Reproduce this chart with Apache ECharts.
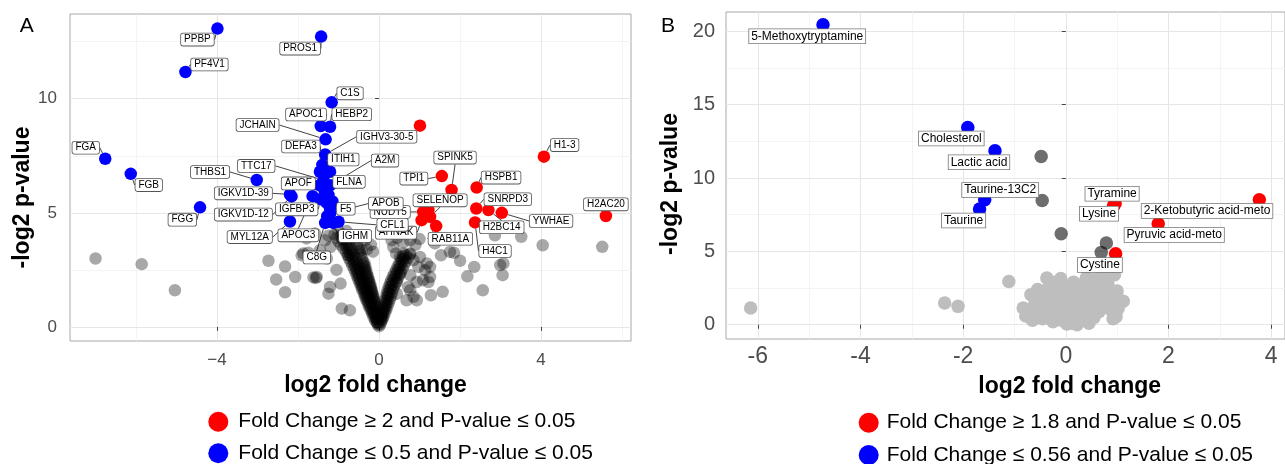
<!DOCTYPE html>
<html><head><meta charset="utf-8">
<script src="https://cdn.jsdelivr.net/npm/echarts@6/dist/echarts.min.js"></script>
<style>html,body{margin:0;padding:0;background:#fff;}#c{width:1285px;height:464px;}</style>
</head><body><div id="c"></div>
<script>
// ================= DATA: Panel A (proteins) =================
const aUpNames = ['', 'H1-3', 'TPI1', 'SPINK5', 'HSPB1', 'SNRPD3', 'H2BC14', 'YWHAE', 'H4C1', 'H2AC20', 'NUDT5', '', 'SELENOP', 'AHNAK', 'RAB11A'];
const aUpX = [1.01, 4.07, 1.55, 1.79, 2.41, 2.40, 2.70, 3.03, 2.37, 5.60, 1.09, 1.22, 1.26, 1.05, 1.41];
const aUpY = [8.82, 7.46, 6.61, 6.00, 6.11, 5.19, 5.12, 5.00, 4.58, 4.86, 5.04, 5.12, 4.82, 4.68, 4.42];

const aDownNames = ['PPBP', 'PROS1', 'PF4V1', 'FGA', 'FGB', 'FGG', 'THBS1', 'IGKV1D-39', 'IGKV1D-12', 'MYL12A',
  'C1S', 'APOC1', 'HEBP2', 'JCHAIN', 'IGHV3-30-5', 'DEFA3', 'ITIH1', 'TTC17', 'A2M', 'APOF', 'FLNA', 'IGFBP3',
  'F5', 'APOB', 'C8G', 'IGHM', 'CFL1', 'APOC3', '', '', '', '', ''];
const aDownX = [-3.99, -1.43, -4.78, -6.76, -6.13, -4.42, -3.02, -2.20, -2.16, -2.20,
  -1.17, -1.44, -1.21, -1.32, -1.33, -1.46, -1.21, -1.37, -1.21, -1.47, -1.25, -1.45,
  -1.21, -1.21, -1.33, -1.13, -1.00, -1.64, -1.30, -1.15, -1.35, -1.28, -1.40];
const aDownY = [13.07, 12.72, 11.17, 7.37, 6.71, 5.24, 6.44, 5.81, 5.72, 4.62,
  9.84, 8.80, 8.77, 8.22, 7.56, 6.80, 6.80, 6.43, 6.21, 6.21, 5.78, 5.60,
  5.19, 4.97, 4.56, 4.56, 4.61, 5.73, 5.45, 5.50, 6.00, 4.85, 7.10];

// non-significant proteins [log2FC, -log2 p]
const aNs = [
  [-7.00,3.00],[-5.86,2.75],[-5.04,1.61],
  [-2.73,2.90],[-2.32,2.65],[-2.54,2.08],[-2.07,2.19],[-2.32,1.52],
  [-1.62,2.17],[-1.56,2.15],[-1.91,3.14],[-1.79,3.88],[-1.58,4.10],[-1.33,3.80],[-1.87,3.22],[-1.75,3.25],
  [-1.46,3.36],[-1.29,3.00],[-1.25,1.46],[-1.54,2.19],[-1.21,1.75],[-0.92,0.81],[-0.72,0.73],[-0.76,3.14],
  [-0.43,3.36],[-1.05,2.50],[-0.95,1.90],[-0.30,3.40],[-0.20,3.60],[-0.35,3.80],[-0.15,3.30],[-1.20,3.50],[-1.25,4.00],
  [4.04,3.58],[5.51,3.51],[3.51,3.95],[2.86,4.02],[3.07,2.78],[3.05,2.27],[2.99,2.71],[2.35,2.63],[2.18,2.22],
  [2.56,1.61],[1.57,1.54],[1.28,1.39],[1.53,3.14],[1.85,3.25],[2.00,2.90],[1.18,2.78],[1.26,2.19],
  [1.26,2.63],[0.93,1.17],[0.77,1.61],[0.44,1.46],[0.77,2.27],[1.09,2.05],[1.01,3.07],[0.60,3.22],[0.77,3.22],
  [0.31,3.80],[0.77,3.80],[1.75,3.29],[1.38,3.66],[0.42,3.22],[0.52,3.07],[0.85,2.93],[0.97,2.63],[1.14,2.49],
  [1.22,1.97],[0.93,1.97],[0.72,1.75],[0.68,1.17],[0.85,1.32],[0.52,2.34],[0.44,1.97],
  [0.45,3.90],[0.60,3.70],[0.90,3.60],[0.35,3.50],[1.00,3.85],
  // dense V near the origin
  [0.00,0.03],[-0.03,0.10],[0.03,0.12],[-0.06,0.20],[0.05,0.22],
  [-0.10,0.30],[-0.05,0.32],[0.06,0.30],[0.09,0.36],
  [-0.14,0.45],[-0.07,0.45],[0.07,0.45],[0.11,0.47],
  [-0.17,0.60],[-0.09,0.60],[0.10,0.60],[0.15,0.62],
  [-0.21,0.75],[-0.12,0.75],[0.13,0.75],[0.18,0.77],
  [-0.25,0.90],[-0.15,0.90],[-0.08,0.92],[0.16,0.90],[0.21,0.92],
  [-0.28,1.05],[-0.18,1.05],[-0.10,1.07],[0.18,1.05],[0.24,1.07],
  [-0.32,1.20],[-0.22,1.20],[-0.13,1.22],[0.20,1.20],[0.27,1.22],
  [-0.35,1.35],[-0.25,1.35],[-0.15,1.37],[0.22,1.35],[0.30,1.37],
  [-0.38,1.50],[-0.28,1.50],[-0.18,1.52],[0.24,1.50],[0.32,1.52],
  [-0.42,1.65],[-0.31,1.65],[-0.20,1.67],[0.27,1.65],[0.35,1.67],
  [-0.45,1.80],[-0.34,1.80],[-0.23,1.82],[0.30,1.80],[0.38,1.82],
  [-0.48,1.95],[-0.37,1.95],[-0.26,1.97],[0.33,1.95],[0.42,1.97],
  [-0.52,2.10],[-0.40,2.10],[-0.28,2.12],[0.37,2.10],[0.46,2.12],
  [-0.55,2.25],[-0.43,2.25],[-0.31,2.27],[0.41,2.25],[0.50,2.27],
  [-0.58,2.40],[-0.46,2.40],[-0.34,2.42],[0.45,2.40],[0.54,2.42],
  [-0.62,2.55],[-0.49,2.55],[-0.36,2.57],[0.49,2.55],[0.58,2.57],
  [-0.66,2.70],[-0.52,2.70],[-0.38,2.72],[0.53,2.70],[0.62,2.72],
  [-0.70,2.85],[-0.55,2.85],[-0.40,2.87],[0.57,2.85],[0.66,2.87],
  [-0.74,3.00],[-0.58,3.00],[-0.42,3.02],[0.61,3.00],[0.72,3.02],
  [-0.78,3.15],[-0.62,3.15],[-0.45,3.17],[0.66,3.15],[0.76,3.17],
  [-0.82,3.30],[-0.66,3.30],[-0.48,3.32],
  [-0.88,3.45],[-0.70,3.45],[-0.50,3.47],
  [-0.94,3.60],[-0.75,3.60],[-0.55,3.62],
  [-1.00,3.75],[-0.80,3.75],[-0.60,3.77],
  [-1.05,3.90],[-0.85,3.90],[-0.65,3.92],
  [-1.10,4.05],[-0.90,4.05],[-1.00,4.20],[-0.80,4.20],
  [-0.04,0.18],[-0.08,0.38],[-0.12,0.53],[-0.16,0.68],[-0.20,0.83],[-0.23,0.98],[-0.27,1.13],[-0.30,1.28],
  [-0.33,1.43],[-0.36,1.58],[-0.40,1.73],[-0.43,1.88],[-0.46,2.03],[-0.49,2.18],[-0.52,2.33],[-0.55,2.48],
  [-0.58,2.63],[-0.61,2.78],[-0.64,2.93],[-0.68,3.08],[-0.72,3.23],[-0.76,3.38],[-0.80,3.53],[-0.85,3.68],
  [-0.90,3.83],[-0.95,3.98],
  [-0.02,0.40],[-0.04,0.55],[-0.05,0.70],[-0.07,0.85],[-0.10,1.00],[-0.12,1.15],[-0.14,1.30],[-0.16,1.45],
  [-0.18,1.60],[-0.20,1.75],[-0.22,1.90],[-0.25,2.05],[-0.27,2.20],[-0.30,2.35],[-0.32,2.50],[-0.34,2.65],[-0.36,2.80],
  [0.04,0.40],[0.06,0.55],[0.09,0.70],[0.11,0.85],[0.13,1.00],[0.15,1.15],[0.17,1.30],[0.19,1.45],[0.21,1.60],
  [0.24,1.75],[0.27,1.90],[0.30,2.05],[0.34,2.20],[0.38,2.35],[0.42,2.50],[0.46,2.65],[0.50,2.80],[0.55,2.95],[0.60,3.10]
];

// ================= DATA: Panel B (metabolites) =================
const bUpNames = ['Lysine', 'Tyramine', 'Cystine', 'Pyruvic acid-meto', '2-Ketobutyric acid-meto'];
const bUpX = [0.93, 0.96, 0.97, 1.80, 3.77];
const bUpY = [8.10, 8.27, 4.84, 6.88, 8.52];

const bDownNames = ['5-Methoxytryptamine', 'Cholesterol', 'Lactic acid', 'Taurine-13C2', 'Taurine'];
const bDownX = [-4.73, -1.91, -1.38, -1.58, -1.68];
const bDownY = [20.45, 13.45, 11.86, 8.52, 7.89];

// p significant but fold change small
const bMid = [[-0.48,11.47],[-0.46,8.47],[-0.09,6.20],[0.79,5.57],[0.69,4.93]];

// not significant
const bNs = [
  [-6.14,1.14],[-2.36,1.48],[-2.10,1.25],[-1.11,2.95],
  [-0.83,1.14],[-0.78,0.60],[-0.68,2.05],[-0.60,1.50],[-0.55,0.90],[-0.50,1.95],[-0.45,0.40],[-0.40,1.25],
  [-0.37,3.18],[-0.32,2.60],[-0.30,1.70],[-0.25,0.20],[-0.20,2.20],[-0.18,0.80],[-0.15,1.40],[-0.10,3.15],
  [-0.08,0.30],[-0.05,2.00],[0.00,1.10],[0.02,0.05],[0.05,2.60],[0.08,1.60],[0.10,0.50],[0.12,0.10],
  [0.15,2.20],[0.18,1.30],[0.20,0.80],[0.22,0.00],[0.25,1.90],[0.28,2.70],[0.30,1.00],[0.32,0.30],
  [0.35,2.40],[0.38,1.50],[0.40,0.70],[0.45,0.10],[0.45,2.90],[0.48,2.00],[0.50,1.20],[0.55,3.10],
  [0.55,0.50],[0.60,2.50],[0.62,1.60],[0.65,0.90],[0.70,3.30],[0.72,2.10],[0.75,1.30],[0.80,3.60],
  [0.82,2.80],[0.85,1.80],[0.88,1.00],[0.95,3.40],[0.98,0.55],[1.00,2.30],[1.05,1.50],[1.12,1.60],[0.92,0.40],
  [-0.70,1.00],[-0.65,0.30],[-0.35,0.70],[-0.42,2.30],[-0.25,2.90],[-0.10,2.50],[0.00,1.60],[0.05,0.60],
  [0.15,1.70],[0.25,0.40],[0.35,0.90],[0.40,3.20],[0.60,2.00],[0.68,1.10],[0.78,2.40],[0.90,2.10],
  [1.02,1.10],[0.30,2.20],[0.15,2.90],[-0.20,1.00],[-0.55,2.40]
];

// ================= tick / gridline values =================
const aXMajor = [-4, 0, 4], aXMinor = [-6, -2, 2, 6];
const aYMajor = [0, 5, 10], aYMinor = [2.5, 7.5, 12.5];
const bXMajor = [-6, -4, -2, 0, 2, 4], bXMinor = [-5, -3, -1, 1, 3];
const bYMajor = [0, 5, 10, 15, 20], bYMinor = [2.5, 7.5, 12.5, 17.5];

const legendA = ['Fold Change \u2265 2 and P-value \u2264 0.05', 'Fold Change \u2264 0.5 and P-value \u2264 0.05'];
const legendB = ['Fold Change \u2265 1.8 and P-value \u2264 0.05', 'Fold Change \u2264 0.56 and P-value \u2264 0.05'];

// ================= label placement (pixel offsets from point) =================
const offA = {
  'PPBP':[-20,11], 'PROS1':[-21,12], 'PF4V1':[24,-7.5], 'FGA':[-19.5,-11], 'FGB':[18,11.3], 'FGG':[-17.7,12.3],
  'THBS1':[-46.7,-8], 'IGKV1D-39':[-46.6,-1], 'IGKV1D-12':[-48.2,18.2], 'MYL12A':[-40.2,15.6],
  'C1S':[18.4,-9], 'APOC1':[-14.7,-11.6], 'HEBP2':[21.7,-12.5], 'JCHAIN':[-68,-14.3], 'IGHV3-30-5':[61.6,-17.6],
  'DEFA3':[-19,-25.2], 'ITIH1':[13.3,-12.2], 'TTC17':[-67.3,-14.3], 'A2M':[55,-24.6], 'APOF':[-21.2,-1.8],
  'FLNA':[20.6,-13.2], 'IGFBP3':[-23.6,10.2], 'F5':[15.8,0.3], 'APOB':[55.8,-9.9], 'C8G':[-8.4,34.5],
  'IGHM':[21.8,13.1], 'CFL1':[54,3.1], 'APOC3':[-14.3,39.2],
  'NUDT5':[-33,0], 'AHNAK':[-25.5,12.5], 'SELENOP':[10,-16.6], 'RAB11A':[14.2,12.7], 'TPI1':[-28,2.5],
  'SPINK5':[3.5,-32.4], 'HSPB1':[24.4,-9.9], 'SNRPD3':[31.5,-9.2], 'H2BC14':[13.3,17.2], 'YWHAE':[49.3,8.1],
  'H4C1':[20,28.5], 'H1-3':[20.7,-11.6], 'H2AC20':[0,-11.7]
};
const offB = {
  '5-Methoxytryptamine':[-15.8,11.5], 'Cholesterol':[-16.4,11.1], 'Lactic acid':[-16,11.5],
  'Taurine-13C2':[15.5,-9.8], 'Taurine':[-16,11.5], 'Tyramine':[-3,-9.7], 'Lysine':[-14.5,7.8],
  '2-Ketobutyric acid-meto':[-52.3,11.3], 'Pyruvic acid-meto':[16,11.2], 'Cystine':[-15.7,11.3]
};

// ================= build =================
const FONT = "'Liberation Sans', Arial, Helvetica, sans-serif";

function pts(xs, ys, names) {
  return xs.map(function (x, i) {
    const n = names ? names[i] : '';
    return n ? { name: n, value: [x, ys[i]], label: { show: true } } : { value: [x, ys[i]], label: { show: false } };
  });
}
function layoutFrom(offsets) {
  return function (p) {
    const o = offsets[p.text];
    if (!o) return {};
    return { x: p.rect.x + p.rect.width / 2 + o[0], y: p.rect.y + p.rect.height / 2 + o[1], align: 'center', verticalAlign: 'middle' };
  };
}
function gridSeries(xi, yi, xMaj, xMin, yMaj, yMin) {
  const d = [];
  const mi = { type: 'solid', color: '#f1f1f1', width: 0.8 };
  const ma = { type: 'solid', color: '#e6e6e6', width: 1 };
  xMin.forEach(function (v) { d.push({ xAxis: v, lineStyle: mi }); });
  yMin.forEach(function (v) { d.push({ yAxis: v, lineStyle: mi }); });
  xMaj.forEach(function (v) { d.push({ xAxis: v, lineStyle: ma }); });
  yMaj.forEach(function (v) { d.push({ yAxis: v, lineStyle: ma }); });
  return { type: 'scatter', xAxisIndex: xi, yAxisIndex: yi, data: [], z: 0, silent: true,
    markLine: { z: 0, silent: true, symbol: ['none', 'none'], label: { show: false }, animation: false, data: d } };
}

const labelA = { show: true, formatter: '{b}', fontFamily: FONT, fontSize: 10, lineHeight: 10, color: '#000',
  backgroundColor: '#fff', borderColor: '#555', borderWidth: 0.8, borderRadius: 2, padding: [1, 3] };
const labelB = { show: true, formatter: '{b}', fontFamily: FONT, fontSize: 12, lineHeight: 12, color: '#000',
  backgroundColor: '#fff', borderColor: '#777', borderWidth: 0.8, borderRadius: 0, padding: [1, 2] };
const lineA = { show: true, lineStyle: { color: '#111', width: 0.8 } };

function axisX(gi, min, max, ticks, fs, margin, minus) {
  return { type: 'value', gridIndex: gi, min: min, max: max, splitLine: { show: false }, axisLine: { show: false },
    axisTick: { show: true, customValues: ticks, length: 4, lineStyle: { color: '#444' } },
    axisLabel: { customValues: ticks, fontFamily: FONT, fontSize: fs, color: '#4d4d4d', margin: margin,
      formatter: function (v) { return v < 0 ? minus + Math.abs(v) : String(v); } } };
}
function axisY(gi, min, max, ticks, fs, margin) {
  return { type: 'value', gridIndex: gi, min: min, max: max, splitLine: { show: false }, axisLine: { show: false },
    axisTick: { show: true, customValues: ticks, length: 4, lineStyle: { color: '#444' } },
    axisLabel: { customValues: ticks, fontFamily: FONT, fontSize: fs, color: '#4d4d4d', margin: margin } };
}
function legendItem(name, left, top, padL) {
  return { data: [name], orient: 'horizontal', left: left, top: top, padding: 0, icon: 'circle', itemWidth: 20, itemHeight: 20,
    selectedMode: false, itemStyle: { borderWidth: 0 },
    textStyle: { fontFamily: FONT, fontSize: 21, lineHeight: 22, color: '#000', padding: [0, 0, 0, padL] } };
}
function sc(name, xi, data, size, color, extra) {
  const s = { name: name, type: 'scatter', xAxisIndex: xi, yAxisIndex: xi, data: data, symbolSize: size,
    itemStyle: { color: color, opacity: 1, borderWidth: 0, borderColor: 'transparent' }, silent: true, z: 2, emphasis: { disabled: true } };
  return Object.assign(s, extra || {});
}

const chart = echarts.init(document.getElementById('c'), null, { renderer: 'canvas' });
chart.setOption({
  animation: false,
  backgroundColor: '#fff',
  grid: [
    { left: 70, top: 14, width: 561, height: 327, show: true, borderColor: '#a8a8a8', borderWidth: 1, backgroundColor: 'transparent' },
    { left: 726, top: 12, width: 566, height: 327, show: true, borderColor: '#a8a8a8', borderWidth: 1, backgroundColor: 'transparent' }
  ],
  xAxis: [
    axisX(0, -7.63, 6.22, aXMajor, 17, 11, '\u2212'),
    axisX(1, -6.62, 4.27, bXMajor, 23, 6, '-')
  ],
  yAxis: [
    axisY(0, -0.614, 13.71, aYMajor, 17, 13),
    axisY(1, -0.975, 21.32, bYMajor, 20, 11)
  ],
  legend: [
    legendItem(legendA[0], 208.3, 410.7, 5),
    legendItem(legendA[1], 208.3, 442.3, 5),
    legendItem(legendB[0], 858.7, 411.7, 3),
    legendItem(legendB[1], 858.7, 444, 3)
  ],
  graphic: [
    { type: 'text', x: 26.7, y: 25.8, style: { text: 'A', fontFamily: FONT, fontSize: 21, fill: '#000', align: 'center', verticalAlign: 'middle' } },
    { type: 'text', x: 668, y: 25.8, style: { text: 'B', fontFamily: FONT, fontSize: 21, fill: '#000', align: 'center', verticalAlign: 'middle' } },
    { type: 'text', x: 375.5, y: 386, style: { text: 'log2 fold change', fontFamily: FONT, fontWeight: 'bold', fontSize: 23, fill: '#000', align: 'center', verticalAlign: 'middle' } },
    { type: 'text', x: 1069.7, y: 386.7, style: { text: 'log2 fold change', fontFamily: FONT, fontWeight: 'bold', fontSize: 23, fill: '#000', align: 'center', verticalAlign: 'middle' } },
    { type: 'text', x: 23, y: 197.5, rotation: Math.PI / 2, style: { text: '-log2 p-value', fontFamily: FONT, fontWeight: 'bold', fontSize: 23, fill: '#000', align: 'center', verticalAlign: 'middle' } },
    { type: 'text', x: 671, y: 184, rotation: Math.PI / 2, style: { text: '-log2 p-value', fontFamily: FONT, fontWeight: 'bold', fontSize: 23, fill: '#000', align: 'center', verticalAlign: 'middle' } }
  ],
  series: [
    gridSeries(0, 0, aXMajor, aXMinor, aYMajor, aYMinor),
    gridSeries(1, 1, bXMajor, bXMinor, bYMajor, bYMinor),
    sc('ns A', 0, aNs, 12.5, 'rgba(0,0,0,0.34)'),
    sc(legendA[0], 0, pts(aUpX, aUpY, aUpNames), 12.5, '#ff0000',
      { label: labelA, labelLine: lineA, labelLayout: layoutFrom(offA), z: 3 }),
    sc(legendA[1], 0, pts(aDownX, aDownY, aDownNames), 12.5, '#0000ff',
      { label: labelA, labelLine: lineA, labelLayout: layoutFrom(offA), z: 3 }),
    sc('ns B', 1, bNs, 13.5, '#bebebe'),
    sc('mid B', 1, bMid, 13.5, 'rgba(0,0,0,0.57)'),
    sc(legendB[0], 1, pts(bUpX, bUpY, bUpNames), 13.5, '#ff0000',
      { label: labelB, labelLayout: layoutFrom(offB), z: 3 }),
    sc(legendB[1], 1, pts(bDownX, bDownY, bDownNames), 13.5, '#0000ff',
      { label: labelB, labelLayout: layoutFrom(offB), z: 3 })
  ]
});
</script>
</body></html>
